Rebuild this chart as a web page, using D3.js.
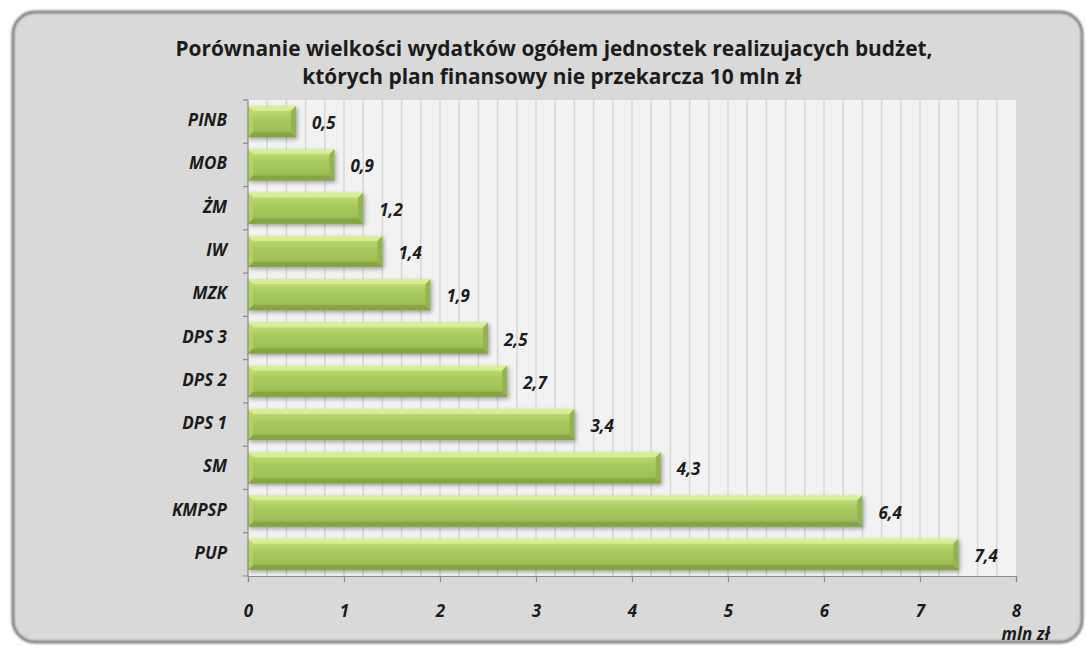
<!DOCTYPE html>
<html>
<head>
<meta charset="utf-8">
<script src="https://cdn.jsdelivr.net/npm/d3@7"></script>
<style>
  html, body { margin: 0; padding: 0; background: #ffffff; }
  svg { display: block; }
  text { font-family: "Open Sans", "DejaVu Sans", sans-serif; fill: #1c1c1c; }
</style>
</head>
<body>
<svg id="chart" width="1086" height="645"></svg>
<script>
// Units, top to bottom
const categories = ["PINB", "MOB", "ŻM", "IW", "MZK", "DPS 3", "DPS 2", "DPS 1", "SM", "KMPSP", "PUP"];
// Total expenditure, mln zł
const values = [0.5, 0.9, 1.2, 1.4, 1.9, 2.5, 2.7, 3.4, 4.3, 6.4, 7.4];
const valueLabels = ["0,5", "0,9", "1,2", "1,4", "1,9", "2,5", "2,7", "3,4", "4,3", "6,4", "7,4"];
const xTicks = [0, 1, 2, 3, 4, 5, 6, 7, 8];
const titleLines = [
  "Porównanie wielkości wydatków ogółem jednostek realizujacych budżet,",
  "których plan finansowy nie przekarcza  10 mln zł"
];
const unitLabel = "mln zł";

const svg = d3.select("#chart");
const plot = { left: 248, right: 1016, top: 100, bottom: 576 };
const labelSize = 17;

const defs = svg.append("defs");

// bar body gradient
const g1 = defs.append("linearGradient").attr("id", "barBody")
  .attr("x1", 0).attr("y1", 0).attr("x2", 0).attr("y2", 1);
[[0, "#d3eb8e"], [0.14, "#bcda72"], [0.4, "#a9ca5f"], [0.75, "#a0c157"], [1, "#88aa46"]]
  .forEach(([o, c]) => g1.append("stop").attr("offset", o).attr("stop-color", c));

const shadow = defs.append("filter").attr("id", "barShadow")
  .attr("x", "-10%").attr("y", "-30%").attr("width", "125%").attr("height", "180%");
shadow.append("feDropShadow").attr("dx", 1.5).attr("dy", 2).attr("stdDeviation", 2)
  .attr("flood-color", "#000").attr("flood-opacity", 0.35);

const frameShadow = defs.append("filter").attr("id", "frameShadow")
  .attr("x", "-5%").attr("y", "-5%").attr("width", "110%").attr("height", "110%");
frameShadow.append("feGaussianBlur").attr("stdDeviation", 0.8);

// outer frame
svg.append("rect")
  .attr("x", 13).attr("y", 12).attr("width", 1069).attr("height", 630)
  .attr("rx", 22).attr("ry", 22)
  .attr("fill", "#d9d9d9").attr("stroke", "#7a7a7a").attr("stroke-width", 3)
  .attr("filter", "url(#frameShadow)");

// scales
const x = d3.scaleLinear().domain([0, 8]).range([plot.left, plot.right]);
const y = d3.scaleBand().domain(categories).range([plot.top, plot.bottom])
  .paddingInner(0.28).paddingOuter(0.14);

// plot area
svg.append("rect")
  .attr("x", plot.left).attr("y", plot.top)
  .attr("width", plot.right - plot.left).attr("height", plot.bottom - plot.top)
  .attr("fill", "#f2f2f2");

// vertical gridlines every 0.2
const gridVals = d3.range(1, 40).map(i => i * 0.2);
svg.append("g").selectAll("line").data(gridVals).join("line")
  .attr("x1", d => x(d)).attr("x2", d => x(d))
  .attr("y1", plot.top).attr("y2", plot.bottom)
  .attr("stroke", "#d6d6d6").attr("stroke-width", 1.5);

// bars
const bars = svg.append("g").selectAll("g.bar").data(categories).join("g").attr("class", "bar");
bars.each(function (c, i) {
  const g = d3.select(this);
  const x0 = x(0), x1 = x(values[i]);
  const y0 = y(c), h = y.bandwidth(), y1 = y0 + h;
  const b = 5; // bevel size
  g.append("rect").attr("x", x0).attr("y", y0).attr("width", x1 - x0).attr("height", h)
    .attr("fill", "url(#barBody)").attr("filter", "url(#barShadow)");
  // top bevel
  g.append("path").attr("d", `M${x0},${y0}L${x1},${y0}L${x1 - b},${y0 + b}L${x0 + b},${y0 + b}Z`)
    .attr("fill", "#dcf09c").attr("opacity", 0.8);
  // bottom bevel
  g.append("path").attr("d", `M${x0},${y1}L${x1},${y1}L${x1 - b},${y1 - b}L${x0 + b},${y1 - b}Z`)
    .attr("fill", "#83a340").attr("opacity", 0.85);
  // right bevel
  g.append("path").attr("d", `M${x1},${y0}L${x1},${y1}L${x1 - b},${y1 - b}L${x1 - b},${y0 + b}Z`)
    .attr("fill", "#93b44e");
  // left bevel
  g.append("path").attr("d", `M${x0},${y0}L${x0},${y1}L${x0 + b},${y1 - b}L${x0 + b},${y0 + b}Z`)
    .attr("fill", "#b6d56d").attr("opacity", 0.7);
});

// value labels
svg.append("g").selectAll("text").data(categories).join("text")
  .attr("x", (c, i) => x(values[i]) + 16)
  .attr("y", c => y(c) + y.bandwidth() / 2 + 3)
  .attr("dominant-baseline", "middle")
  .attr("font-size", labelSize).attr("font-weight", "bold").attr("font-style", "italic")
  .text((c, i) => valueLabels[i]);

// left axis
const axisColor = "#8a8a8a";
svg.append("line").attr("x1", plot.left).attr("x2", plot.left)
  .attr("y1", plot.top).attr("y2", plot.bottom).attr("stroke", axisColor).attr("stroke-width", 1.2);
const boundaries = categories.map(c => y(c) - y.step() * y.paddingInner() / 2).concat([plot.bottom]);
svg.append("g").selectAll("line").data(boundaries).join("line")
  .attr("x1", plot.left - 5).attr("x2", plot.left)
  .attr("y1", d => d).attr("y2", d => d)
  .attr("stroke", axisColor).attr("stroke-width", 1.2);
svg.append("g").selectAll("text").data(categories).join("text")
  .attr("x", 227).attr("y", c => y(c) + y.bandwidth() / 2)
  .attr("text-anchor", "end").attr("dominant-baseline", "middle")
  .attr("font-size", labelSize).attr("font-weight", "bold").attr("font-style", "italic")
  .text(c => c);

// bottom axis
const xAxis = d3.axisBottom(x).tickValues(xTicks).tickSize(6).tickFormat(d3.format("d"));
const ax = svg.append("g").attr("transform", `translate(0,${plot.bottom})`).call(xAxis);
ax.select(".domain").attr("stroke", axisColor).attr("stroke-width", 1.2);
ax.selectAll(".tick line").attr("stroke", axisColor).attr("stroke-width", 1.2);
ax.selectAll(".tick text")
  .attr("y", 41).attr("dy", 0)
  .attr("font-size", labelSize).attr("font-weight", "bold").attr("font-style", "italic")
  .attr("font-family", "\"Open Sans\", sans-serif").attr("fill", "#1c1c1c");

svg.append("text").attr("x", 1050).attr("y", 640)
  .attr("text-anchor", "end")
  .attr("font-size", labelSize).attr("font-weight", "bold").attr("font-style", "italic")
  .text(unitLabel);

// title
const title = svg.append("g");
const t1 = title.append("text").attr("x", 554).attr("y", 56).attr("text-anchor", "middle")
  .attr("font-size", 18).attr("font-weight", "bold").text(titleLines[0]);
const w1 = t1.node().getComputedTextLength();
const fs = 18 * 758 / w1;
t1.attr("font-size", fs);
title.append("text").attr("x", 552).attr("y", 84).attr("text-anchor", "middle")
  .attr("font-size", fs).attr("font-weight", "bold").text(titleLines[1]);
</script>
</body>
</html>
